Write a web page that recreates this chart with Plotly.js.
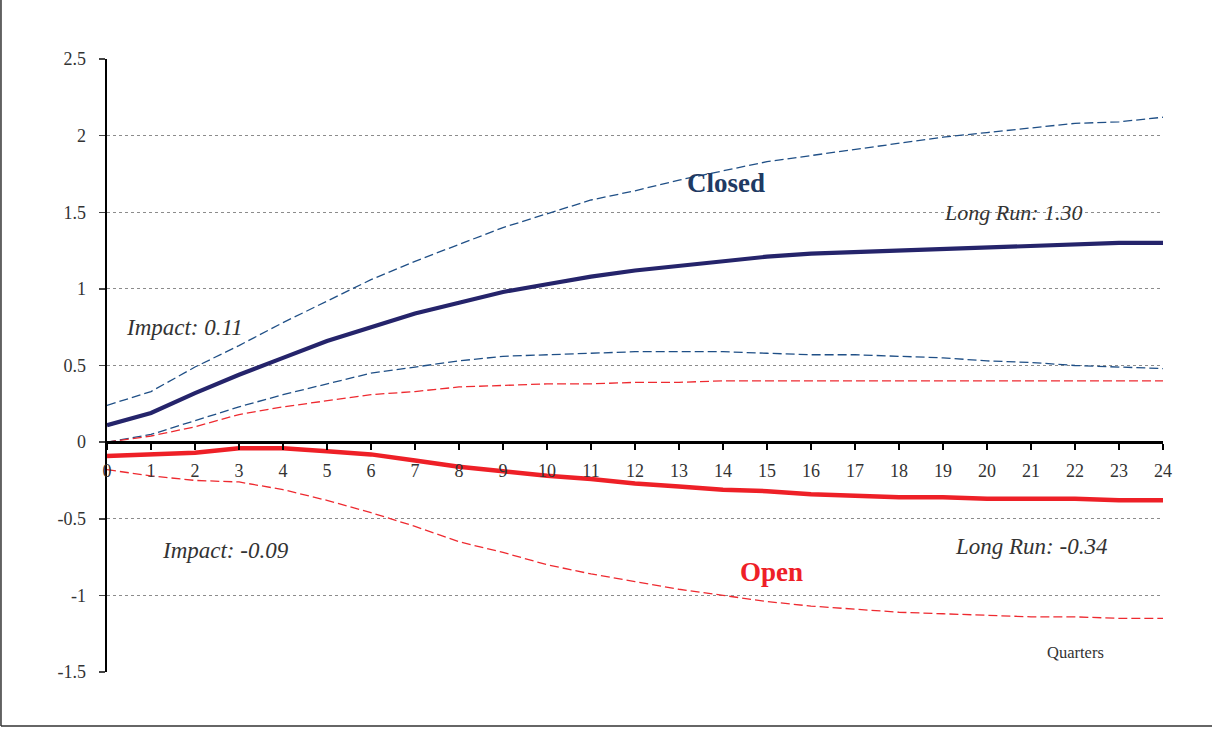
<!DOCTYPE html>
<html>
<head>
<meta charset="utf-8">
<script src="https://cdn.plot.ly/plotly-3.0.1.min.js"></script>
<style>html,body{margin:0;padding:0;background:#fff;}#chart{width:1212px;height:729px;}</style>
</head>
<body>
<div id="chart"></div>
<script>
const quarters = [0,1,2,3,4,5,6,7,8,9,10,11,12,13,14,15,16,17,18,19,20,21,22,23,24];
const closedMain  = [0.11,0.19,0.32,0.44,0.55,0.66,0.75,0.84,0.91,0.98,1.03,1.08,1.12,1.15,1.18,1.21,1.23,1.24,1.25,1.26,1.27,1.28,1.29,1.30,1.30];
const closedUpper = [0.24,0.33,0.49,0.63,0.78,0.92,1.06,1.18,1.29,1.40,1.49,1.58,1.64,1.71,1.77,1.83,1.87,1.91,1.95,1.99,2.02,2.05,2.08,2.09,2.12];
const closedLower = [0.00,0.05,0.14,0.23,0.31,0.38,0.45,0.49,0.53,0.56,0.57,0.58,0.59,0.59,0.59,0.58,0.57,0.57,0.56,0.55,0.53,0.52,0.50,0.49,0.48];
const openMain    = [-0.09,-0.08,-0.07,-0.04,-0.04,-0.06,-0.08,-0.12,-0.16,-0.19,-0.22,-0.24,-0.27,-0.29,-0.31,-0.32,-0.34,-0.35,-0.36,-0.36,-0.37,-0.37,-0.37,-0.38,-0.38];
const openUpper   = [0.00,0.04,0.10,0.18,0.23,0.27,0.31,0.33,0.36,0.37,0.38,0.38,0.39,0.39,0.40,0.40,0.40,0.40,0.40,0.40,0.40,0.40,0.40,0.40,0.40];
const openLower   = [-0.18,-0.22,-0.25,-0.26,-0.31,-0.38,-0.46,-0.55,-0.65,-0.72,-0.80,-0.86,-0.91,-0.96,-1.00,-1.04,-1.07,-1.09,-1.11,-1.12,-1.13,-1.14,-1.14,-1.15,-1.15];
const yTickVals = [-1.5,-1,-0.5,0,0.5,1,1.5,2,2.5];
const yTickText = ["-1.5","-1","-0.5","0","0.5","1","1.5","2","2.5"];
const labelClosed = "Closed", labelOpen = "Open";
const impactClosed = "Impact: 0.11", impactOpen = "Impact: -0.09";
const longRunClosed = "Long Run: 1.30", longRunOpen = "Long Run: -0.34";
const xLabel = "Quarters";

const navy = "#25246b", blueDash = "#1f4f86", red = "#ee2027", redDash = "#ee2a30";
const dashStyle = "9px,4px";
const serif = "Liberation Serif, Times New Roman, serif";

const traces = [
  {x: quarters, y: closedUpper, mode: "lines", line: {color: blueDash, width: 1.3, dash: dashStyle}},
  {x: quarters, y: closedLower, mode: "lines", line: {color: blueDash, width: 1.3, dash: dashStyle}},
  {x: quarters, y: openUpper, mode: "lines", line: {color: redDash, width: 1.3, dash: dashStyle}},
  {x: quarters, y: openLower, mode: "lines", line: {color: redDash, width: 1.3, dash: dashStyle}},
  {x: quarters, y: closedMain, mode: "lines", line: {color: navy, width: 4.2}},
  {x: quarters, y: openMain, mode: "lines", line: {color: red, width: 4.5}}
];

const yr = [-1.5, 2.5];
const zeroPos = (0 - yr[0]) / (yr[1] - yr[0]);

const ann = (x, y, text, size, color, bold, italic) => ({
  x: x, y: y, xref: "x", yref: "y", text: bold ? "<b>" + text + "</b>" : (italic ? "<i>" + text + "</i>" : text),
  showarrow: false, font: {family: serif, size: size, color: color}, xanchor: "center", yanchor: "middle"
});

const layout = {
  width: 1212, height: 729,
  margin: {l: 107, r: 49, t: 59, b: 57},
  paper_bgcolor: "#fff", plot_bgcolor: "#fff",
  showlegend: false,
  font: {family: serif, color: "#333"},
  xaxis: {
    range: [0, 24], anchor: "free", position: zeroPos,
    tickmode: "array", tickvals: quarters, ticktext: quarters.map(String),
    showgrid: false, zeroline: false, showline: true, linecolor: "#000", linewidth: 2.5,
    ticks: "outside", ticklen: 6, tickwidth: 1.5, tickcolor: "#000",
    ticklabelstandoff: 6,
    tickfont: {family: serif, size: 18, color: "#333"}
  },
  yaxis: {
    range: yr, tickmode: "array", tickvals: yTickVals, ticktext: yTickText,
    showgrid: true, gridcolor: "#8c8c8c", griddash: "dot", gridwidth: 1,
    zeroline: false, showline: true, linecolor: "#000", linewidth: 2.5,
    ticks: "outside", ticklen: 6, tickwidth: 1.5, tickcolor: "#444",
    ticklabelstandoff: 9,
    tickfont: {family: serif, size: 18, color: "#333"}
  },
  annotations: [
    ann(14.07, 1.69, labelClosed, 27, "#1f3a63", true, false),
    ann(15.1, -0.85, labelOpen, 27, "#ee2027", true, false),
    ann(1.77, 0.75, impactClosed, 23, "#333", false, true),
    ann(2.7, -0.71, impactOpen, 23, "#333", false, true),
    ann(20.6, 1.50, longRunClosed, 22, "#333", false, true),
    ann(21.0, -0.68, longRunOpen, 23, "#333", false, true),
    ann(22.0, -1.37, xLabel, 16.5, "#333", false, false)
  ],
  shapes: [
    {type: "line", xref: "paper", yref: "paper", x0: -0.1004, x1: -0.1004, y0: -0.088, y1: 1.2, line: {color: "#333", width: 1.5}},
    {type: "line", xref: "paper", yref: "paper", x0: -0.1004, x1: 1.05, y0: -0.088, y1: -0.088, line: {color: "#333", width: 1.5}}
  ]
};

Plotly.newPlot("chart", traces, layout, {displayModeBar: false, staticPlot: true});
</script>
</body>
</html>
